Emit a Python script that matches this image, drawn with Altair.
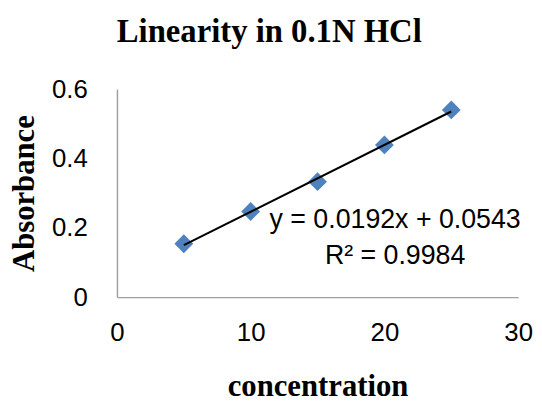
import altair as alt
import pandas as pd

concentration = [5, 10, 15, 20, 25]
absorbance = [0.154, 0.247, 0.333, 0.439, 0.540]

eq_labels = ["y = 0.0192x + 0.0543", "R² = 0.9984"]
eq_x = [20.8, 20.8]
eq_y = [0.222, 0.117]

x_ticks = [0, 10, 20, 30]
y_ticks = [0, 0.2, 0.4, 0.6]

df = pd.DataFrame({"concentration": concentration, "absorbance": absorbance})
eq_df = pd.DataFrame({"label": eq_labels, "x": eq_x, "y": eq_y})

x_scale = alt.Scale(domain=[0, 30], nice=False, zero=False)
y_scale = alt.Scale(domain=[0, 0.6], nice=False, zero=False)

x_axis = alt.Axis(
    title="concentration", values=x_ticks, grid=False, ticks=False,
    domainColor="#a0a0a0", domainWidth=1.5,
    labelFont="Liberation Sans", labelFontSize=26, labelColor="#000000",
    labelPadding=23, labelFlush=False,
    titleFont="Liberation Serif", titleFontSize=31, titleFontWeight="bold",
    titleColor="#000000", titlePadding=26,
)
y_axis = alt.Axis(
    title="Absorbance", values=y_ticks, grid=False, ticks=False,
    domainColor="#a0a0a0", domainWidth=1.5,
    labelFont="Liberation Sans", labelFontSize=26, labelColor="#000000",
    labelPadding=30, labelFlush=False, format="~g",
    titleFont="Liberation Serif", titleFontSize=31, titleFontWeight="bold",
    titleColor="#000000", titlePadding=11,
)

base = alt.Chart(df)

points = base.mark_point(
    shape="diamond", filled=True, size=360, color="#4F81BD", opacity=1
).encode(
    x=alt.X("concentration:Q", scale=x_scale, axis=x_axis),
    y=alt.Y("absorbance:Q", scale=y_scale, axis=y_axis),
)

trend = base.transform_regression(
    "concentration", "absorbance", method="linear"
).mark_line(color="#000000", strokeWidth=2).encode(
    x=alt.X("concentration:Q", scale=x_scale),
    y=alt.Y("absorbance:Q", scale=y_scale),
)

eq_text = alt.Chart(eq_df).mark_text(
    font="Liberation Sans", fontSize=27, color="#000000", align="center", baseline="middle"
).encode(
    x=alt.X("x:Q", scale=x_scale),
    y=alt.Y("y:Q", scale=y_scale),
    text="label:N",
)

chart = alt.layer(points, trend, eq_text).properties(
    width=405,
    height=210,
    background="#ffffff",
    title=alt.TitleParams(
        "Linearity in 0.1N HCl", font="Liberation Serif", fontSize=33,
        fontWeight="bold", color="#000000", anchor="start", offset=28, dx=109,
    ),
    autosize=alt.AutoSizeParams(type="none"),
    padding={"left": 110, "top": 80, "right": 16, "bottom": 104},
).configure_view(stroke="transparent", strokeWidth=0)

chart.save("out.html", embed_options={"renderer": "svg", "actions": False})
